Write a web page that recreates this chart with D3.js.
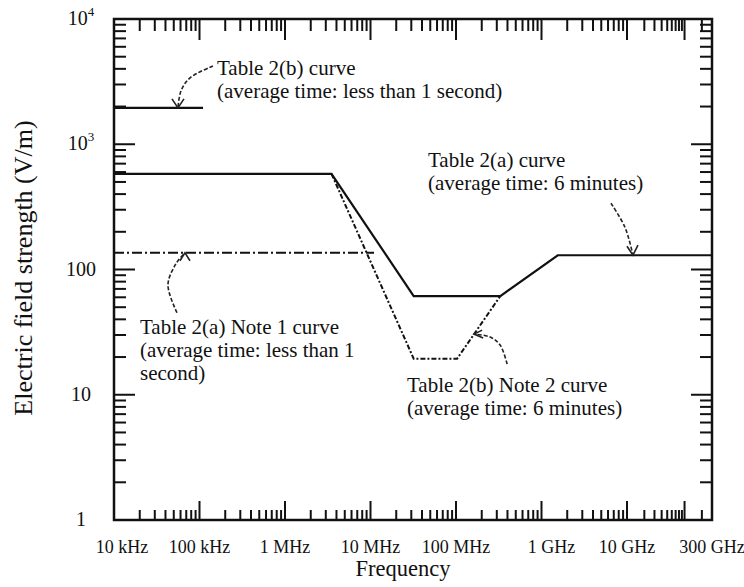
<!DOCTYPE html>
<html>
<head>
<meta charset="utf-8">
<script src="https://d3js.org/d3.v7.min.js"></script>
<style>
  body { margin: 0; background: #fff; }
  svg { display: block; font-family: "Liberation Serif", "Times New Roman", serif; }
</style>
</head>
<body>
<div class="chart"></div>
<script>
// values (frequency in Hz, field strength in V/m)
var table2aFreq = [1e4, 3.5e6, 3.2e7, 3.3e8, 1.55e9, 3e11];
var table2aE    = [580, 580, 61.4, 61.4, 130, 130];

var table2bFreq = [1e4, 1.1e5];
var table2bE    = [1950, 1950];

var note1Freq = [1e4, 1.1e7];
var note1E    = [136, 136];

var note2Freq = [3.5e6, 3.2e7, 1.03e8, 3.3e8];
var note2E    = [580, 19.4, 19.4, 61.4];

var xTickValues = [1e4, 1e5, 1e6, 1e7, 1e8, 1e9, 1e10, 3e11];
var xTickLabels = ["10 kHz", "100 kHz", "1 MHz", "10 MHz", "100 MHz", "1 GHz", "10 GHz", "300 GHz"];
var yTickValues = [1, 10, 100, 1000, 10000];
var yTickLabels = ["1", "10", "100", "10|3", "10|4"];

(function() {
    var svg = d3.select(".chart")
        .append("svg")
        .attr("width", 744)
        .attr("height", 587),
        plotLeft = 114,
        plotRight = 712,
        plotTop = 19,
        plotBottom = 520;

    // the original axis is not uniform past 10 GHz: the 300 GHz mark sits at the frame edge
    var x = d3.scaleLog()
        .domain([1e4, 1e10, 3e11])
        .range([plotLeft, 627, plotRight]);

    var y = d3.scaleLog()
        .domain([1, 1e4])
        .range([plotBottom, plotTop]);

    function zip(fs, es) {
        return fs.map(function(f, i) { return { f: f, e: es[i] }; });
    }

    var line = d3.line()
        .x(function(d) { return x(d.f); })
        .y(function(d) { return y(d.e); });

    // minor + major ticks
    var xTicks = [];
    for (var p = 4; p <= 11; p++) {
        for (var k = 1; k <= 9; k++) {
            var v = k * Math.pow(10, p);
            if (v <= 3e11) xTicks.push({ v: v, major: k == 1 });
        }
    }
    var yTicks = [];
    for (var p = 0; p <= 4; p++) {
        for (var k = 1; k <= 9; k++) {
            var v = k * Math.pow(10, p);
            if (v <= 1e4) yTicks.push({ v: v, major: k == 1 });
        }
    }

    var ticks = svg.append("g")
        .attr("stroke", "#111")
        .attr("stroke-width", 2);

    ticks.selectAll(".tb").data(xTicks).enter().append("line")
        .attr("x1", function(d) { return x(d.v); })
        .attr("x2", function(d) { return x(d.v); })
        .attr("y1", plotBottom)
        .attr("y2", function(d) { return plotBottom - (d.major ? 19 : 10); });

    ticks.selectAll(".tt").data(xTicks).enter().append("line")
        .attr("x1", function(d) { return x(d.v); })
        .attr("x2", function(d) { return x(d.v); })
        .attr("y1", plotTop)
        .attr("y2", function(d) { return plotTop + (d.major ? 21 : 12); });

    ticks.selectAll(".tl").data(yTicks).enter().append("line")
        .attr("y1", function(d) { return y(d.v); })
        .attr("y2", function(d) { return y(d.v); })
        .attr("x1", plotLeft)
        .attr("x2", function(d) { return plotLeft + (d.major ? 21 : 12); });

    ticks.selectAll(".tr").data(yTicks).enter().append("line")
        .attr("y1", function(d) { return y(d.v); })
        .attr("y2", function(d) { return y(d.v); })
        .attr("x1", plotRight)
        .attr("x2", function(d) { return plotRight - (d.major ? 21 : 12); });

    // frame
    svg.append("rect")
        .attr("x", plotLeft)
        .attr("y", plotTop)
        .attr("width", plotRight - plotLeft)
        .attr("height", plotBottom - plotTop)
        .attr("fill", "none")
        .attr("stroke", "#111")
        .attr("stroke-width", 2.5);

    // curves
    svg.append("path")
        .datum(zip(table2aFreq, table2aE))
        .attr("fill", "none")
        .attr("stroke", "#111")
        .attr("stroke-width", 2.2)
        .attr("d", line);

    svg.append("path")
        .datum(zip(table2bFreq, table2bE))
        .attr("fill", "none")
        .attr("stroke", "#111")
        .attr("stroke-width", 2.2)
        .attr("d", line);

    svg.append("path")
        .datum(zip(note1Freq, note1E))
        .attr("fill", "none")
        .attr("stroke", "#111")
        .attr("stroke-width", 2)
        .attr("stroke-dasharray", "10,3,2,3")
        .attr("d", line);

    svg.append("path")
        .datum(zip(note2Freq, note2E))
        .attr("fill", "none")
        .attr("stroke", "#111")
        .attr("stroke-width", 2)
        .attr("stroke-dasharray", "5,2,2,2")
        .attr("d", line);

    // callout leaders: tip sits on a curve, the rest is drawn relative to it
    var leaders = [
        { f: 5.6e4, e: 1950, path: [[35, -42], [12, -30], [3, -17], [0, 0]], arms: [[-6, -9], [6, -9]] },
        { f: 1.27e10, e: 130, path: [[-22, -52], [-8, -28], [0, 0]], arms: [[-6, -9], [5, -10]] },
        { f: 6.76e4, e: 136, path: [[-8, 60], [-17, 32], [-9, 11], [0, 0]], arms: [[-5, 8], [5, 8]] },
        { f: 1.63e8, e: 30.5, path: [[33, 30], [26, 11], [16, 3], [0, 0]], arms: [[8, -4], [9, 4]] }
    ];

    var curvy = d3.line().curve(d3.curveCatmullRom);

    leaders.forEach(function(l) {
        var tx = x(l.f), ty = y(l.e);
        svg.append("path")
            .attr("fill", "none")
            .attr("stroke", "#222")
            .attr("stroke-width", 1.6)
            .attr("stroke-dasharray", "4,2")
            .attr("d", curvy(l.path.map(function(p) { return [tx + p[0], ty + p[1]]; })));
        svg.append("path")
            .attr("fill", "none")
            .attr("stroke", "#222")
            .attr("stroke-width", 1.6)
            .attr("d", "M" + (tx + l.arms[0][0]) + "," + (ty + l.arms[0][1]) +
                "L" + tx + "," + ty +
                "L" + (tx + l.arms[1][0]) + "," + (ty + l.arms[1][1]));
    });

    // annotation text
    var notes = [
        { x: 217, y: 75, lines: ["Table 2(b) curve", "(average time: less than 1 second)"] },
        { x: 428, y: 167, lines: ["Table 2(a) curve", "(average time: 6 minutes)"] },
        { x: 140, y: 334, lines: ["Table 2(a) Note 1 curve", "(average time: less than 1", "second)"] },
        { x: 407, y: 392, lines: ["Table 2(b) Note 2 curve", "(average time: 6 minutes)"] }
    ];

    notes.forEach(function(n) {
        var t = svg.append("text")
            .attr("font-size", 21)
            .attr("fill", "#111");
        n.lines.forEach(function(s, i) {
            t.append("tspan")
                .attr("x", n.x)
                .attr("y", n.y + i * 23)
                .text(s);
        });
    });

    // axis labels
    svg.append("g")
        .attr("font-size", 18)
        .attr("fill", "#111")
        .attr("text-anchor", "middle")
        .selectAll("text")
        .data(xTickValues)
        .enter().append("text")
        .attr("x", function(d, i) { return x(d) + (i == 0 ? 8 : i == 5 ? 10 : 0); })
        .attr("y", 553)
        .text(function(d, i) { return xTickLabels[i]; });

    var yl = svg.append("g")
        .attr("font-size", 20)
        .attr("fill", "#111")
        .attr("text-anchor", "middle")
        .selectAll("text")
        .data(yTickValues)
        .enter().append("text")
        .attr("x", 81)
        .attr("y", function(d) { return y(d) + 6; });

    yl.each(function(d, i) {
        var parts = yTickLabels[i].split("|");
        var t = d3.select(this);
        t.append("tspan").text(parts[0]);
        if (parts[1]) {
            t.append("tspan")
                .attr("font-size", 13)
                .attr("dy", -9)
                .text(parts[1]);
        }
    });

    svg.append("text")
        .attr("x", 403)
        .attr("y", 576)
        .attr("font-size", 22.5)
        .attr("text-anchor", "middle")
        .attr("fill", "#111")
        .text("Frequency");

    svg.append("text")
        .attr("transform", "translate(32,268) rotate(-90)")
        .attr("font-size", 26)
        .attr("text-anchor", "middle")
        .attr("fill", "#111")
        .text("Electric field strength (V/m)");
})();
</script>
</body>
</html>
